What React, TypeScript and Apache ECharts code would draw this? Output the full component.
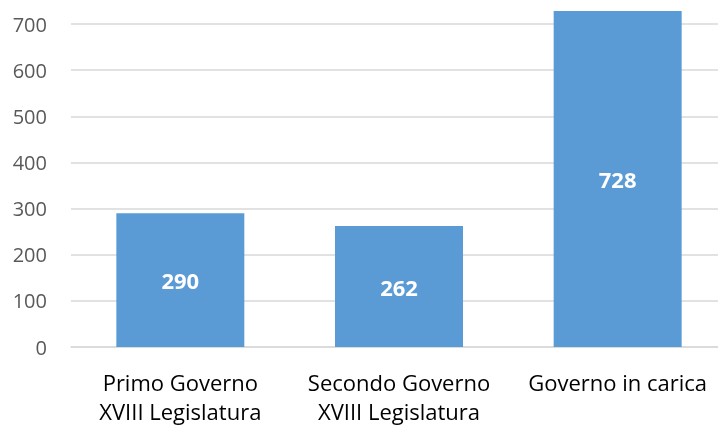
import React, { useEffect, useRef } from "react";
import * as echarts from "echarts";

const categories = ["Primo Governo\nXVIII Legislatura", "Secondo Governo\nXVIII Legislatura", "Governo in carica"];
const values = [290, 262, 728];
const yTicks = [0, 100, 200, 300, 400, 500, 600, 700];

export default function App() {
  const ref = useRef<HTMLDivElement>(null);
  useEffect(() => {
    if (!ref.current) return;
    const chart = echarts.init(ref.current, null, { renderer: "svg" });
    const font = "'Open Sans', 'Noto Sans', sans-serif";
    chart.setOption({
      animation: false,
      grid: { left: 71, width: 656, top: 24, bottom: 78, containLabel: false },
      xAxis: {
        type: "category",
        data: categories,
        axisLine: { show: true, lineStyle: { color: "#d9d9d9", width: 1.5 } },
        axisTick: { show: false },
        axisLabel: {
          color: "#000000",
          fontSize: 22,
          fontFamily: font,
          lineHeight: 29,
          margin: 20,
          interval: 0,
        },
      },
      yAxis: {
        type: "value",
        min: yTicks[0],
        max: yTicks[yTicks.length - 1],
        interval: 100,
        axisLine: { show: false },
        axisTick: { show: false },
        axisLabel: { color: "#595959", fontSize: 20, fontFamily: font, margin: 24 },
        splitLine: { lineStyle: { color: "#d9d9d9", width: 1.5 } },
      },
      series: [
        {
          type: "bar",
          data: values,
          barWidth: 128,
          clip: false,
          itemStyle: { color: "#5b9bd5" },
          label: {
            show: true,
            position: "inside",
            color: "#ffffff",
            fontWeight: "bold",
            fontSize: 22,
            fontFamily: font,
          },
        },
      ],
    });
    return () => chart.dispose();
  }, []);
  return (
    <div style={{ position: "fixed", left: 0, top: 0, width: 718, height: 425, overflow: "hidden" }}>
      <div ref={ref} style={{ width: 730, height: 425 }} />
    </div>
  );
}
